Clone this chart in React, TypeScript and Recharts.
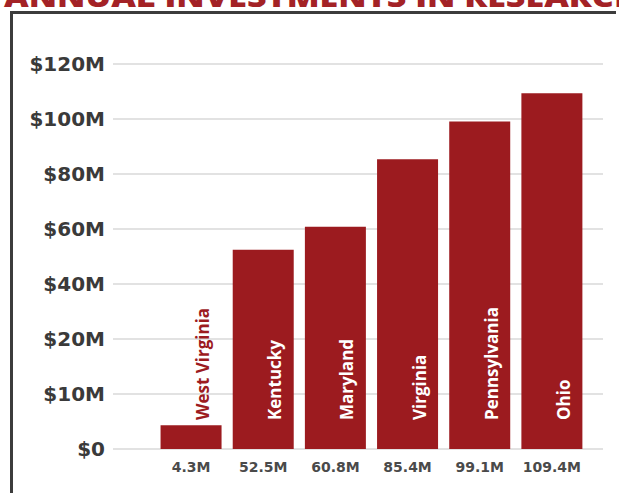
import React from 'react'
import { BarChart, Bar, XAxis, YAxis, CartesianGrid, LabelList } from 'recharts'

const STATES = ['West Virginia', 'Kentucky', 'Maryland', 'Virginia', 'Pennsylvania', 'Ohio']
// annual research investment, $M
const INVESTMENTS = [4.3, 52.5, 60.8, 85.4, 99.1, 109.4]
const VALUE_LABELS = ['4.3M', '52.5M', '60.8M', '85.4M', '99.1M', '109.4M']
const TICK_VALUES = [0, 10, 20, 40, 60, 80, 100, 120]
const TICK_LABELS = ['$0', '$10M', '$20M', '$40M', '$60M', '$80M', '$100M', '$120M']

const BAR_COLOR = '#9c1b1f'
const TITLE_COLOR = '#a32226'
const TEXT_COLOR = '#3a3a3a'

// the printed axis has evenly spaced ticks that are not evenly spaced in value,
// so values are placed by tick segment
const toAxis = (v: number) => {
  for (let i = 0; i < TICK_VALUES.length - 1; i++) {
    const a = TICK_VALUES[i]
    const b = TICK_VALUES[i + 1]
    if (v <= b) return i + (v - a) / (b - a)
  }
  return TICK_VALUES.length - 1
}

const data = STATES.map((state, i) => ({
  state,
  value: INVESTMENTS[i],
  label: VALUE_LABELS[i],
  pos: toAxis(INVESTMENTS[i]),
}))

const YTick = (props: any) => {
  const { x, y, payload } = props
  return (
    <text
      x={x}
      y={y}
      dy={7}
      textAnchor="end"
      fill={TEXT_COLOR}
      fontFamily="DejaVu Sans"
      fontWeight={700}
      fontSize={20}
    >
      {TICK_LABELS[payload.value]}
    </text>
  )
}

const XTick = (props: any) => {
  const { x, y, payload } = props
  const row = data.find((d) => d.state === payload.value)
  return (
    <text
      x={x}
      y={y}
      dy={15}
      textAnchor="middle"
      fill="#4a4a4a"
      fontFamily="DejaVu Sans"
      fontWeight={700}
      fontSize={14}
    >
      {row ? row.label : ''}
    </text>
  )
}

const StateLabel = (props: any) => {
  const { x, y, width, height, value } = props
  const tx = x + width / 2 + 18
  const ty = y + height - 29
  const short = height < 40
  return (
    <text
      x={tx}
      y={ty}
      transform={`rotate(-90, ${tx}, ${ty})`}
      textAnchor="start"
      fill={short ? BAR_COLOR : '#fff'}
      fontFamily="Open Sans"
      fontWeight={700}
      fontSize={17}
    >
      {value}
    </text>
  )
}

export default function App() {
  return (
    <div
      style={{
        position: 'absolute',
        left: 0,
        top: 0,
        width: 619,
        height: 493,
        overflow: 'hidden',
        background: '#fff',
      }}
    >
      <svg width={619} height={12} style={{ position: 'absolute', left: 0, top: 0 }}>
        <text
          x={4}
          y={7}
          textLength={636}
          lengthAdjust="spacingAndGlyphs"
          fill={TITLE_COLOR}
          fontFamily="Open Sans"
          fontWeight={800}
          fontSize={28}
        >
          ANNUAL INVESTMENTS IN RESEARCH
        </text>
      </svg>
      <div
        style={{
          position: 'absolute',
          left: 10,
          top: 11,
          width: 603,
          height: 500,
          borderTop: '3px solid #3c3c3c',
          borderLeft: '3px solid #3c3c3c',
        }}
      />
      <div style={{ position: 'absolute', left: 0, top: 0 }}>
        <BarChart
          width={619}
          height={493}
          data={data}
          margin={{ top: 64, right: 16, bottom: 14, left: 0 }}
          barCategoryGap="7.7%"
        >
          <CartesianGrid vertical={false} stroke="#d9d9d9" strokeWidth={1.5} />
          <XAxis
            dataKey="state"
            height={30}
            axisLine={false}
            tickLine={false}
            padding={{ left: 42, right: 15 }}
            tick={<XTick />}
            interval={0}
          />
          <YAxis
            type="number"
            domain={[0, TICK_VALUES.length - 1]}
            ticks={TICK_VALUES.map((_, i) => i)}
            width={113}
            axisLine={false}
            tickLine={false}
            tick={<YTick />}
          />
          <Bar dataKey="pos" fill={BAR_COLOR} isAnimationActive={false}>
            <LabelList dataKey="state" content={<StateLabel />} />
          </Bar>
        </BarChart>
      </div>
    </div>
  )
}
